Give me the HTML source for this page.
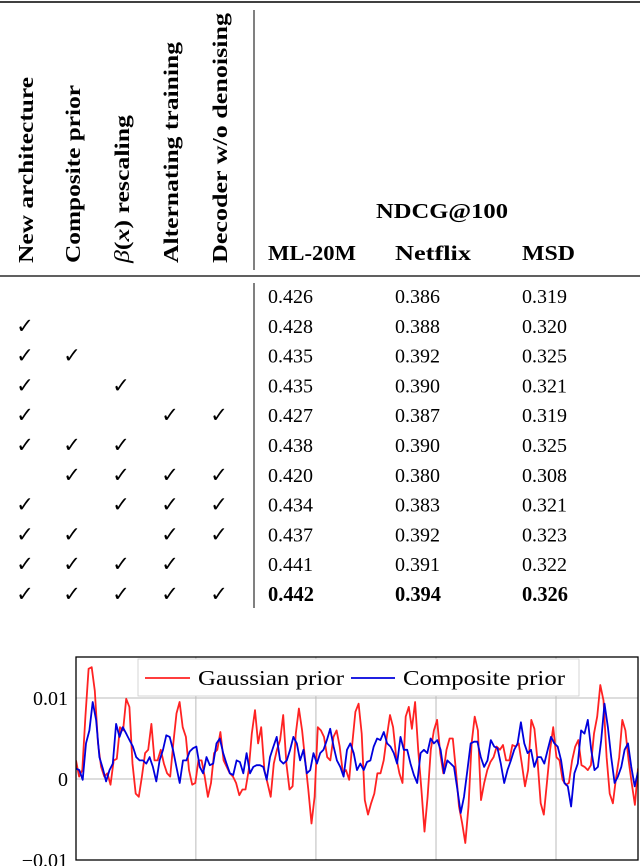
<!DOCTYPE html>
<html><head><meta charset="utf-8">
<style>
html,body{margin:0;padding:0;background:#fff;width:640px;height:866px;overflow:hidden}
svg{display:block;font-family:"Liberation Serif",serif}
.h{font-weight:bold;font-size:21px}
.v{font-size:20px}
.ck{font-size:21px}
</style></head><body>
<svg id="page" width="640" height="866" viewBox="0 0 640 866">
 <g id="table">
  <line x1="0" y1="2" x2="640" y2="2" stroke="#000" stroke-width="1.5"/>
  <line x1="0" y1="276" x2="640" y2="276" stroke="#000" stroke-width="1.2"/>
  <line x1="254" y1="10" x2="254" y2="270" stroke="#000" stroke-width="1"/>
  <line x1="254" y1="283" x2="254" y2="608" stroke="#000" stroke-width="1"/>
  <text class="h" transform="translate(33,263) rotate(-90)" textLength="186" lengthAdjust="spacingAndGlyphs">New architecture</text>
  <text class="h" transform="translate(80,263) rotate(-90)" textLength="178" lengthAdjust="spacingAndGlyphs">Composite prior</text>
  <text class="h" transform="translate(129,263) rotate(-90)" textLength="148" lengthAdjust="spacingAndGlyphs"><tspan font-style="italic" font-weight="normal">β</tspan>(<tspan font-style="italic">x</tspan>) rescaling</text>
  <text class="h" transform="translate(178,263) rotate(-90)" textLength="221" lengthAdjust="spacingAndGlyphs">Alternating training</text>
  <text class="h" transform="translate(227,263) rotate(-90)" textLength="250" lengthAdjust="spacingAndGlyphs">Decoder w/o denoising</text>
  <text class="h" x="376" y="218" textLength="132" lengthAdjust="spacingAndGlyphs">NDCG@100</text>
  <text class="h" x="268" y="260" textLength="88" lengthAdjust="spacingAndGlyphs">ML-20M</text>
  <text class="h" x="395" y="260" textLength="76" lengthAdjust="spacingAndGlyphs">Netflix</text>
  <text class="h" x="522" y="260" textLength="53" lengthAdjust="spacingAndGlyphs">MSD</text>
  <g id="rows"></g>
 </g>
 <g id="chart"></g>
</svg>
<script>
const NS="http://www.w3.org/2000/svg";
const checks=[[],[1],[1,2],[1,3],[1,4,5],[1,2,3],[2,3,4,5],[1,3,4,5],[1,2,4,5],[1,2,3,4],[1,2,3,4,5]];
const ml20m=["0.426","0.428","0.435","0.435","0.427","0.438","0.420","0.434","0.437","0.441","0.442"];
const netflix=["0.386","0.388","0.392","0.390","0.387","0.390","0.380","0.383","0.392","0.391","0.394"];
const msd=["0.319","0.320","0.325","0.321","0.319","0.325","0.308","0.321","0.323","0.322","0.326"];
const redVals=[2.3,0.3,1.1,7.7,13.6,13.8,10.9,4.4,1.5,0.3,0.7,-0.7,2.3,2.5,6.4,6,9.9,8.9,1.9,-1.8,-2.2,0.3,3.2,3.6,6.8,2.3,2.3,3.6,1.9,0.7,0.3,4.4,8.1,9.5,6.4,5.2,1.1,-0.7,-0.5,2.3,2.3,0.3,-2.2,-0.5,3.2,3.6,5.8,2.3,1.5,0.7,0.3,-0.5,-2,-1.3,-1.3,1.1,5.6,8.5,4.4,6.4,1.1,-0.5,-2.2,1.9,3.6,4.8,7.9,1.9,-1.3,-0.9,5.6,8.7,6,2.3,-1.3,-5.5,-2.2,6.4,6,5.2,2.7,2.3,5.2,6,4,0.7,1.1,-0.1,4.4,8.3,9.3,5.6,-2.6,
-4.4,-3,-1.8,0.7,0.7,2.3,5.2,7.9,6.4,2.7,0.7,-0.5,7.7,8.9,6.2,9.5,3.6,-1.3,-6.5,-2.2,3.6,6,7.3,3.2,0.7,3.6,5,5,1.1,-3.4,-5.5,-7.9,-3.4,4.4,7.7,6,-2.6,-0.5,1.1,2.1,2.7,4,3.6,4.2,2.3,2.3,4.2,4,4.4,1.9,-0.9,1.1,7.3,6.2,2.3,-3,-4.4,-0.5,3.6,6.4,2.7,2.3,-0.1,-0.7,-0.5,2.3,4,4.8,1.7,1.5,1.1,1.7,5.6,7.7,11.6,9.7,2.7,-1.8,-3,0.1,2.7,7.3,6,2.3,-0.5,-3.2,1.3];
const blueVals=[1.3,1.1,-0.1,4.4,6,9.5,7.3,2.7,1.3,-0.3,1.1,1.9,6.8,5.2,6.4,5.6,4.8,4,2.7,2.3,2.3,1.9,2.7,1.5,-0.3,2.3,3.6,5.4,5.2,3.6,1.5,-0.5,2.3,2.3,3.4,3.8,4,1.5,0.7,2.7,1.7,1.9,4.4,5,3.2,1.9,0.7,0.5,2.3,2.1,0.7,3.2,0.7,1.5,1.7,1.7,1.5,-0.1,2.7,4,5.2,2.3,1.9,2.3,3.6,5.2,4.4,2.3,3.6,0.7,1.1,3.2,1.9,3.2,3.6,4.8,6.2,4,2.3,1.5,0.3,3.6,4.4,3.2,1.1,
1.9,1.1,2.1,2.3,4,5,4.8,5.8,4.4,4,3.2,1.9,5.2,3.6,3.6,1.9,0.5,-0.5,3.2,3.6,3.2,5,4.4,4.8,3.6,0.7,2.3,1.9,1.5,-1.3,-4.2,-2.2,1.1,4.4,4.6,4.6,2.7,1.5,2.3,4.8,4,3.8,1.9,-0.5,1.1,2.3,3.6,4.4,7,4.4,3.2,3.6,1.5,2.7,2.7,1.9,3.6,5.2,4.4,4,2.3,-0.5,-0.9,-3.4,0.7,1.9,6,5.6,7.3,3.6,1.1,1.5,4.8,9.3,6.4,2.7,-0.5,0.3,1.5,3.6,4.4,1.5,-0.9,0.9];
const yTicks=[10,0,-10];
const yTickLabels=["0.01","0","−0.01"];
const xGrid=[0.2133,0.4269,0.6406,0.8541];

function mk(tag,attrs,parent){const e=document.createElementNS(NS,tag);for(const k in attrs)e.setAttribute(k,attrs[k]);parent.appendChild(e);return e;}
const rows=document.getElementById('rows');
const colX=[25,72,121,170,219];
for(let r=0;r<checks.length;r++){
  const y=303+r*29.8;
  const g=mk('g',{},rows);
  
  
  checks[r].forEach(c=>{const t=mk('text',{x:colX[c-1],y:y,'text-anchor':'middle','class':'ck'},g);t.textContent='✓';
    
    });
  const bold=r===checks.length-1;
  [[268,ml20m],[395,netflix],[522,msd]].forEach(([x,arr])=>{
    const t=mk('text',{x:x,y:y,'class':bold?'h':'v',textLength:bold?'46':'45',lengthAdjust:'spacingAndGlyphs'},g);t.textContent=arr[r];
    if(bold)t.setAttribute('font-size','20');
    
    });
}
const ch=document.getElementById('chart');
const L=76,R=638,T=657,B=860;
const yS=v=>779-v*8.1;
xGrid.forEach(f=>{const l=mk('line',{x1:L+f*(R-L),x2:L+f*(R-L),y1:T,y2:B,stroke:'#bbb','stroke-width':1},ch);
  
  });
yTicks.forEach((v,i)=>{
  const l=mk('line',{x1:L,x2:R,y1:yS(v),y2:yS(v),stroke:'#bbb','stroke-width':1},ch);
  
  
  const t=mk('text',{x:68,y:yS(v)+7,'text-anchor':'end','font-size':'20'},ch);t.textContent=yTickLabels[i];
  
  
});
function line(vals,color,name){
  const n=vals.length;
  const pts=vals.map((v,i)=>(L+i/(n-1)*(R-L)).toFixed(1)+','+yS(v).toFixed(1)).join(' ');
  const p=mk('polyline',{points:pts,fill:'none',stroke:color,'stroke-width':1.8,'stroke-linejoin':'round'},ch);
  
  
}
const clip=mk('clipPath',{id:'pc'},ch);mk('rect',{x:L,y:T,width:R-L,height:B-T},clip);
line(redVals,'#f22','gaussian-prior-line');
line(blueVals,'#00d','composite-prior-line');
ch.querySelectorAll('polyline').forEach(p=>p.setAttribute('clip-path','url(#pc)'));
const lg=mk('g',{},ch);


mk('rect',{x:138,y:659,width:441,height:37,fill:'#fff',stroke:'#ccc','stroke-width':0.8},lg);
mk('line',{x1:145,x2:190,y1:678,y2:678,stroke:'#f22','stroke-width':1.8},lg);
let t=mk('text',{x:198,y:685,'font-size':'21',textLength:'146',lengthAdjust:'spacingAndGlyphs'},lg);t.textContent='Gaussian prior';


mk('line',{x1:351,x2:395,y1:678,y2:678,stroke:'#00d','stroke-width':1.8},lg);
t=mk('text',{x:403,y:685,'font-size':'21',textLength:'162',lengthAdjust:'spacingAndGlyphs'},lg);t.textContent='Composite prior';


const fr=mk('rect',{x:L,y:T,width:R-L,height:B-T,fill:'none',stroke:'#000','stroke-width':1.3},ch);


</script>
</body></html>
